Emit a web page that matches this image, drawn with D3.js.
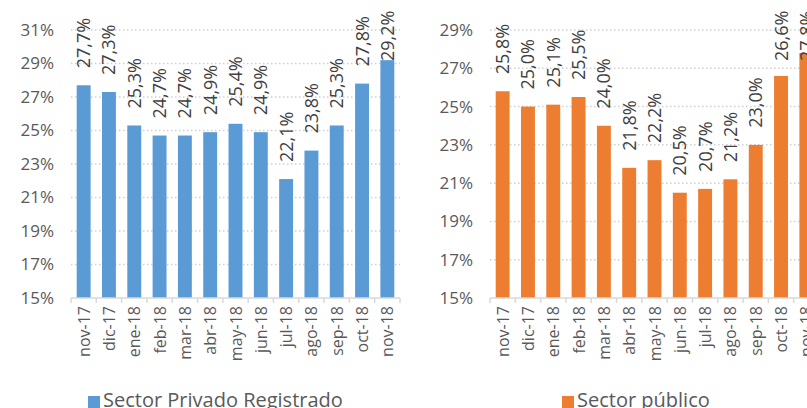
<!DOCTYPE html>
<html>
<head>
<meta charset="utf-8">
<script src="https://cdn.jsdelivr.net/npm/d3@7"></script>
<style>
  html, body { margin: 0; padding: 0; background: #fff; overflow: hidden; }
  svg { display: block; font-family: "Open Sans", sans-serif; }
</style>
</head>
<body>
<script>
// data
var categories = ["nov-17", "dic-17", "ene-18", "feb-18", "mar-18", "abr-18", "may-18",
                  "jun-18", "jul-18", "ago-18", "sep-18", "oct-18", "nov-18"];
var privado = [27.7, 27.3, 25.3, 24.7, 24.7, 24.9, 25.4, 24.9, 22.1, 23.8, 25.3, 27.8, 29.2];
var publico = [25.8, 25.0, 25.1, 25.5, 24.0, 21.8, 22.2, 20.5, 20.7, 21.2, 23.0, 26.6, 27.8];
var ticksPrivado = [15, 17, 19, 21, 23, 25, 27, 29, 31];
var ticksPublico = [15, 17, 19, 21, 23, 25, 27, 29];

var width = 807, height = 408;
var esLocale = d3.formatLocale({ decimal: ",", thousands: ".", grouping: [3], currency: ["", ""] });
var fmt = esLocale.format(".1f");

var svg = d3.select("body").append("svg")
    .attr("width", width)
    .attr("height", height);

drawPanel({
    values: privado, ticks: ticksPrivado, name: "Sector Privado Registrado",
    color: "#5B9BD5", x0: 71, x1: 400, labelX: 54, legendX: 88
});
drawPanel({
    values: publico, ticks: ticksPublico, name: "Sector p\u00fablico",
    color: "#ED7D31", x0: 490, x1: 819, labelX: 473, legendX: 562
});

function drawPanel(o) {
    var top = 30, bottom = 298;
    var g = svg.append("g");

    var x = d3.scaleBand()
        .domain(categories)
        .range([o.x0, o.x1])
        .paddingInner(0.45)
        .paddingOuter(0.225);

    var y = d3.scaleLinear()
        .domain([d3.min(o.ticks), d3.max(o.ticks)])
        .range([bottom, top]);

    // dotted grid lines
    g.selectAll("line.grid")
        .data(o.ticks.slice(1))
        .enter().append("line")
        .attr("class", "grid")
        .attr("x1", o.x0).attr("x2", o.x1)
        .attr("y1", function (d) { return y(d); })
        .attr("y2", function (d) { return y(d); })
        .attr("stroke", "#d0d0d0")
        .attr("stroke-width", 1.5)
        .attr("stroke-dasharray", "1.5,2.5");

    // y labels
    g.selectAll("text.ylab")
        .data(o.ticks)
        .enter().append("text")
        .attr("class", "ylab")
        .attr("x", o.labelX)
        .attr("y", function (d) { return y(d); })
        .attr("dy", "0.35em")
        .attr("text-anchor", "end")
        .attr("fill", "#595959")
        .style("font-size", "17px")
        .text(function (d) { return d + "%"; });

    // bars
    g.selectAll("rect.bar")
        .data(o.values)
        .enter().append("rect")
        .attr("class", "bar")
        .attr("x", function (d, i) { return x(categories[i]); })
        .attr("y", function (d) { return y(d); })
        .attr("width", x.bandwidth())
        .attr("height", function (d) { return bottom - y(d); })
        .attr("fill", o.color);

    // axis line + tick marks at category boundaries
    g.append("line")
        .attr("x1", o.x0).attr("x2", o.x1)
        .attr("y1", bottom).attr("y2", bottom)
        .attr("stroke", "#d9d9d9")
        .attr("stroke-width", 1.5);

    var step = x.step();
    g.selectAll("line.tick")
        .data(d3.range(categories.length + 1))
        .enter().append("line")
        .attr("class", "tick")
        .attr("x1", function (i) { return o.x0 + i * step; })
        .attr("x2", function (i) { return o.x0 + i * step; })
        .attr("y1", bottom).attr("y2", bottom + 5)
        .attr("stroke", "#d9d9d9")
        .attr("stroke-width", 1.5);

    var cx = function (i) { return x(categories[i]) + x.bandwidth() / 2; };

    // category labels
    g.selectAll("text.xlab")
        .data(categories)
        .enter().append("text")
        .attr("class", "xlab")
        .attr("transform", function (d, i) {
            return "translate(" + (cx(i) + 6) + "," + (bottom + 8) + ") rotate(-90)";
        })
        .attr("text-anchor", "end")
        .attr("fill", "#595959")
        .style("font-size", "16px")
        .text(function (d) { return d; });

    // value labels (pushed down when they would run off the top, like Excel does)
    g.selectAll("text.val")
        .data(o.values)
        .enter().append("text")
        .attr("class", "val")
        .attr("transform", function (d, i) {
            var ly = Math.max(y(d) - 17, 61);
            return "translate(" + (cx(i) + 6.5) + "," + ly + ") rotate(-90)";
        })
        .attr("text-anchor", "start")
        .attr("fill", "#404040")
        .style("font-size", "18px")
        .text(function (d) { return fmt(d) + "%"; });

    // legend
    g.append("rect")
        .attr("x", o.legendX).attr("y", 396)
        .attr("width", 12).attr("height", 12)
        .attr("fill", o.color);
    g.append("text")
        .attr("x", o.legendX + 15)
        .attr("y", 407)
        .attr("fill", "#595959")
        .style("font-size", "20px")
        .text(o.name);
}
</script>
</body>
</html>
